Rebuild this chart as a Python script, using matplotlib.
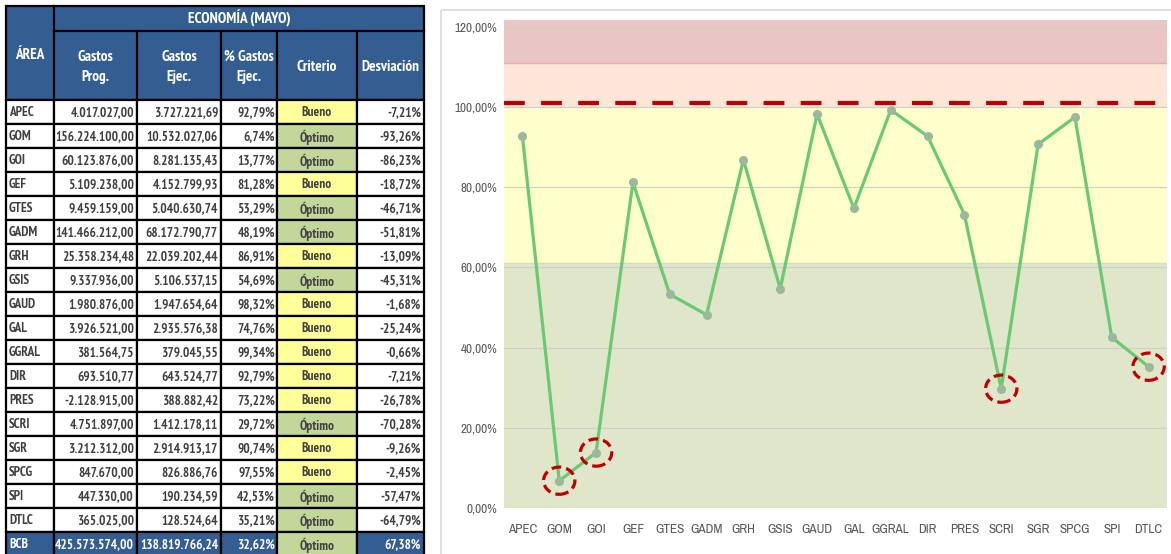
import matplotlib
matplotlib.use('Agg')
import matplotlib.pyplot as plt
from matplotlib import font_manager as fm
from matplotlib.patches import Rectangle, Ellipse

# ── data ──────────────────────────────────────────────────────────────────
AREAS = ['APEC', 'GOM', 'GOI', 'GEF', 'GTES', 'GADM', 'GRH', 'GSIS', 'GAUD',
         'GAL', 'GGRAL', 'DIR', 'PRES', 'SCRI', 'SGR', 'SPCG', 'SPI', 'DTLC']
GASTOS_PROG = [4017027.00, 156224100.00, 60123876.00, 5109238.00, 9459159.00,
               141466212.00, 25358234.48, 9337936.00, 1980876.00, 3926521.00,
               381564.75, 693510.77, -2128915.00, 4751897.00, 3212312.00,
               847670.00, 447330.00, 365025.00]
GASTOS_EJEC = [3727221.69, 10532027.06, 8281135.43, 4152799.93, 5040630.74,
               68172790.77, 22039202.44, 5106537.15, 1947654.64, 2935576.38,
               379045.55, 643524.77, 388882.42, 1412178.11, 2914913.17,
               826886.76, 190234.59, 128524.64]
PCT_EJEC = [92.79, 6.74, 13.77, 81.28, 53.29, 48.19, 86.91, 54.69, 98.32,
            74.76, 99.34, 92.79, 73.22, 29.72, 90.74, 97.55, 42.53, 35.21]
CRITERIO = ['Bueno', 'Óptimo', 'Óptimo', 'Bueno', 'Óptimo', 'Óptimo', 'Bueno',
            'Óptimo', 'Bueno', 'Bueno', 'Bueno', 'Bueno', 'Bueno', 'Óptimo',
            'Bueno', 'Bueno', 'Óptimo', 'Óptimo']
DESVIACION = [-7.21, -93.26, -86.23, -18.72, -46.71, -51.81, -13.09, -45.31,
              -1.68, -25.24, -0.66, -7.21, -26.78, -70.28, -9.26, -2.45,
              -57.47, -64.79]
TOTAL = ('BCB', 425573574.00, 138819766.24, 32.62, 'Óptimo', 67.38)

HIGHLIGHT = ['GOM', 'GOI', 'SCRI', 'DTLC']

# bands (% executed)
BAND_EDGES = [0, 61, 100, 111, 121.8]
BAND_COLORS = ['#dfe6ca', '#ffffcc', '#fbe6d8', '#eac5c5']
LIMIT = 101
YTICKS = [0, 20, 40, 60, 80, 100, 120]

# ── styles ────────────────────────────────────────────────────────────────
C_HEAD = '#345d92'
C_TXT = '#404040'
C_CRIT = {'Bueno': '#ffff99', 'Óptimo': '#c4d79b'}
C_LINE = '#6dc873'
C_MARK = '#9bb89c'
C_RED = '#c00000'
C_TICK = '#595959'

plt.rcParams['font.family'] = ['Liberation Sans', 'DejaVu Sans']


# ── narrow font lookup (table looks like Arial Narrow bold) ──────────────
def _weight(f):
    w = f.weight
    return fm.weight_dict.get(w, 400) if isinstance(w, str) else int(w)


def _narrow_score(f):
    if f.style != 'normal':
        return None
    if 'Narrow' in f.name:
        return 0
    if f.stretch == 'semi-condensed':
        return 1
    if f.stretch == 'condensed' or 'Condensed' in f.name:
        return 2
    return None


def pick_font(bold):
    best = None
    for f in fm.fontManager.ttflist:
        sc = _narrow_score(f)
        if sc is None:
            continue
        w = _weight(f)
        sc = sc * 10 + abs(w - (700 if bold else 400)) / 100
        if best is None or sc < best[0]:
            best = (sc, f.fname)
    return best[1] if best else None


bold_path = pick_font(True)
reg_path = pick_font(False)
fs = 9.5 if bold_path else 8.2
fs_head = 11 if bold_path else 9.5


def tprops(size, bold=True):
    path = bold_path if bold else reg_path
    if path:
        return fm.FontProperties(fname=path, size=size)
    return fm.FontProperties(family='Liberation Sans', weight='bold' if bold else 'normal',
                             size=size)


def fmt_num(v):
    s = f"{v:,.2f}"
    return s.replace(',', 'X').replace('.', ',').replace('X', '.')


def fmt_pct(v):
    return f"{v:.2f}".replace('.', ',') + '%'


fig = plt.figure(figsize=(11.71, 5.54), dpi=100)
bg = fig.add_axes([0, 0, 1, 1])
bg.set_xlim(0, 1171)
bg.set_ylim(554, 0)
bg.axis('off')

# ── table ─────────────────────────────────────────────────────────────────
col_x = [6, 54, 137, 221, 277, 357, 424]
top, h1, h2, row_h = 6, 31, 100, 24
lw_b = 1.6
TP = tprops(fs)
TH = tprops(fs_head)


def ttext(x, y, s, color, ha, fp=TP):
    bg.text(x, y, s, color=color, fontproperties=fp, ha=ha, va='center',
            linespacing=1.6)


# header
bg.add_patch(Rectangle((col_x[0], top), col_x[-1] - col_x[0], h2 - top,
                       facecolor=C_HEAD, edgecolor='black', lw=lw_b))
bg.plot([col_x[1], col_x[1]], [top, h2], color='black', lw=lw_b)
bg.plot([col_x[1], col_x[-1]], [h1, h1], color='black', lw=lw_b)
for xc in col_x[2:-1]:
    bg.plot([xc, xc], [h1, h2], color='black', lw=lw_b)
ttext((col_x[0] + col_x[1]) / 2, 55, 'ÁREA', 'white', 'center', TH)
ttext((col_x[1] + col_x[-1]) / 2, (top + h1) / 2, 'ECONOMÍA (MAYO)', 'white', 'center', TH)
sub_heads = ['Gastos\nProg.', 'Gastos\nEjec.', '% Gastos\nEjec.', 'Criterio', 'Desviación']
for i, lab in enumerate(sub_heads):
    ttext((col_x[i + 1] + col_x[i + 2]) / 2, 67, lab, 'white', 'center', TH)

rows = list(zip(AREAS, GASTOS_PROG, GASTOS_EJEC, PCT_EJEC, CRITERIO, DESVIACION))
rows.append(TOTAL)
for r, (area, prog, ejec, pct, crit, desv) in enumerate(rows):
    y0 = h2 + r * row_h
    yc = y0 + row_h / 2 + 1
    is_total = r == len(rows) - 1
    for c in range(6):
        if c == 4:
            fc = C_CRIT[crit]
        else:
            fc = C_HEAD if is_total else 'white'
        bg.add_patch(Rectangle((col_x[c], y0), col_x[c + 1] - col_x[c], row_h,
                               facecolor=fc, edgecolor='black', lw=lw_b))
    tc = 'white' if is_total else C_TXT
    ttext(col_x[0] + 3, yc, area, tc, 'left')
    ttext(col_x[2] - 3, yc, fmt_num(prog), tc, 'right')
    ttext(col_x[3] - 3, yc, fmt_num(ejec), tc, 'right')
    ttext(col_x[4] - 2, yc, fmt_pct(pct), tc, 'right')
    ttext((col_x[4] + col_x[5]) / 2, yc, crit, C_TXT, 'center')
    ttext(col_x[6] - 3, yc, fmt_pct(desv), tc, 'right')

# chart frame
bg.add_patch(Rectangle((441, 10), 760, 580, fill=False, edgecolor='#d9d9d9', lw=1.2))

# ── chart ─────────────────────────────────────────────────────────────────
ax = fig.add_axes([504 / 1171, (554 - 507.7) / 554, (1167 - 504) / 1171, (507.7 - 20) / 554])
x = list(range(len(AREAS)))
ax.set_xlim(-0.5, len(AREAS) - 0.5)
ax.set_ylim(BAND_EDGES[0], BAND_EDGES[-1])

for lo, hi, col in zip(BAND_EDGES[:-1], BAND_EDGES[1:], BAND_COLORS):
    ax.axhspan(lo, hi, color=col, lw=0, zorder=0)
ax.axhline(BAND_EDGES[3], color='#e3b0aa', lw=1, zorder=0.5)
ax.axhline(BAND_EDGES[1], color='#d3dcbd', lw=1, zorder=0.5)
for t in YTICKS:
    ax.axhline(t, color='#cfd0c4', lw=0.8, zorder=1)

ax.axhline(LIMIT, color=C_RED, lw=3, dashes=(5, 3.9), zorder=2)

ax.plot(x, PCT_EJEC, color=C_LINE, lw=2.3, marker='o', ms=5.5,
        mfc=C_MARK, mec=C_MARK, zorder=3)

for name in HIGHLIGHT:
    i = AREAS.index(name)
    ax.add_patch(Ellipse((i, PCT_EJEC[i]), 0.85, 6.8, fill=False, edgecolor=C_RED,
                         lw=2.3, linestyle=(0, (3, 1.6)), zorder=4))

ax.set_yticks(YTICKS)
ax.set_yticklabels([fmt_pct(t) for t in YTICKS])
ax.set_xticks(x)
ax.set_xticklabels(AREAS)
ax.tick_params(axis='y', length=0, pad=5, labelcolor=C_TICK)
ax.tick_params(axis='x', length=0, pad=12, labelcolor=C_TICK)
TICKP = tprops(9.5, bold=False)
for lab in ax.get_xticklabels() + ax.get_yticklabels():
    lab.set_fontproperties(TICKP)
for s in ax.spines.values():
    s.set_visible(False)

fig.savefig('out.png', dpi=100, facecolor='white')
